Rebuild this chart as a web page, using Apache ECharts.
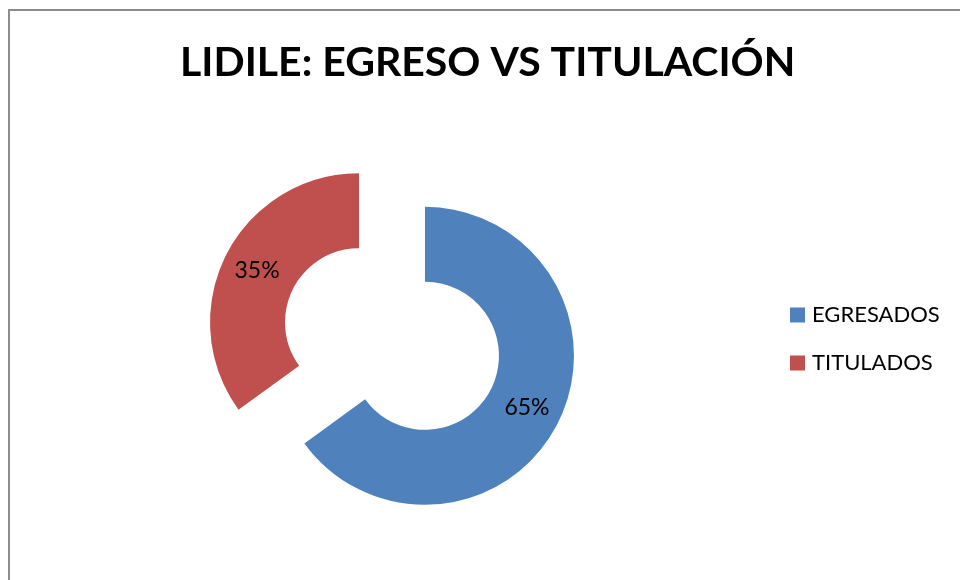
<!DOCTYPE html>
<html>
<head>
<meta charset="utf-8">
<script src="https://cdn.jsdelivr.net/npm/echarts@6/dist/echarts.min.js"></script>
<style>
  body { margin: 0; background: #fff; }
  #chart { width: 960px; height: 580px; }
</style>
</head>
<body>
<div id="chart"></div>
<script>
// datos del grafico
const categorias = ['EGRESADOS', 'TITULADOS'];
const valores = [65, 35];
const colores = ['#4F81BD', '#C0504D'];
const titulo = 'LIDILE: EGRESO VS TITULACIÓN';

document.addEventListener('DOMContentLoaded', function () {
    const chart = echarts.init(document.getElementById('chart'));

    const datos = categorias.map((nombre, i) => ({
        name: nombre,
        value: valores[i],
        selected: true,
        itemStyle: { color: colores[i] }
    }));

    const option = {
        animation: false,
        title: {
            text: titulo,
            left: 180,
            top: 42,
            padding: 0,
            textStyle: {
                fontFamily: 'Lato',
                fontWeight: 'bold',
                fontSize: 41,
                color: '#000'
            }
        },
        legend: {
            orient: 'vertical',
            left: 790,
            top: 304,
            padding: 0,
            itemWidth: 15,
            itemHeight: 15,
            itemGap: 26,
            icon: 'rect',
            selectedMode: false,
            data: categorias,
            textStyle: {
                fontFamily: 'Lato',
                fontSize: 22,
                lineHeight: 22,
                color: '#000',
                padding: [0, 0, 0, 2]
            }
        },
        graphic: [{
            type: 'rect',
            shape: { x: 9, y: 10, width: 1000, height: 600 },
            style: { fill: 'none', stroke: '#8c8c8c', lineWidth: 2 },
            silent: true
        }],
        series: [{
            type: 'pie',
            center: [392, 339],
            radius: [74, 149],
            startAngle: 90,
            clockwise: true,
            selectedMode: 'multiple',
            selectedOffset: 37,
            emphasis: { disabled: true },
            label: {
                show: true,
                position: 'inside',
                formatter: p => Math.round(p.percent) + '%',
                fontFamily: 'Lato',
                fontSize: 23,
                color: '#000',
                padding: [6, 0, 0, 0]
            },
            labelLine: { show: false },
            data: datos
        }]
    };
    chart.setOption(option);
});
</script>
</body>
</html>
